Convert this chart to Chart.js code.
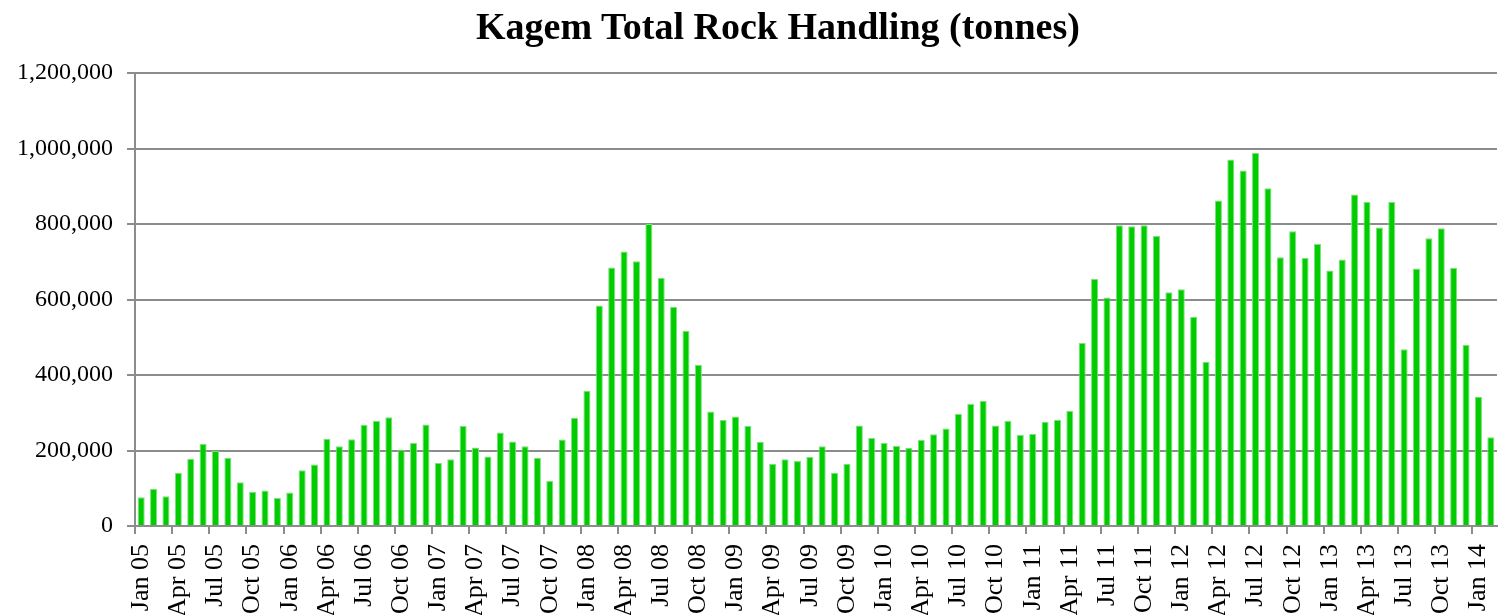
<!DOCTYPE html>
<html>
<head>
<meta charset="utf-8">
<script src="https://cdn.jsdelivr.net/npm/chart.js@4.4.0/dist/chart.umd.min.js"></script>
<style>
  html, body { margin: 0; padding: 0; background: #fff; overflow: hidden; }
  #wrap { position: relative; width: 1499px; height: 615px; }
  #title {
    position: absolute; top: 1px; left: 378px; width: 800px;
    text-align: center; white-space: nowrap;
    font: bold 38px "Liberation Serif", "Times New Roman", serif;
    line-height: 50px; color: #000;
  }
  canvas { position: absolute; top: 0; left: 0; }
</style>
</head>
<body>
<div id="wrap">
  <canvas id="rockChart" width="1499" height="615"></canvas>
  <div id="title">Kagem Total Rock Handling (tonnes)</div>
</div>
<script>
// categories: Jan 05 .. Feb 14, monthly
const monthNames = ['Jan', 'Feb', 'Mar', 'Apr', 'May', 'Jun', 'Jul', 'Aug', 'Sep', 'Oct', 'Nov', 'Dec'];
const years = ['05', '06', '07', '08', '09', '10', '11', '12', '13', '14'];
const monthCount = 110;

// tonnes per month
const tonnes = [
  76000, 99000, 79000, 141000, 178000, 217000, 199000, 181000, 116000, 90000, 94000, 74000,   // 2005
  89000, 148000, 163000, 231000, 211000, 230000, 268000, 279000, 288000, 202000, 220000, 269000, // 2006
  167000, 177000, 265000, 208000, 184000, 248000, 224000, 211000, 181000, 119000, 229000, 287000, // 2007
  358000, 584000, 685000, 727000, 701000, 800000, 657000, 581000, 517000, 427000, 303000, 281000, // 2008
  290000, 265000, 223000, 165000, 177000, 172000, 183000, 211000, 141000, 165000, 266000, 233000, // 2009
  220000, 212000, 207000, 228000, 243000, 258000, 297000, 323000, 331000, 266000, 279000, 242000, // 2010
  244000, 276000, 281000, 305000, 485000, 654000, 605000, 797000, 794000, 797000, 768000, 619000, // 2011
  627000, 554000, 435000, 862000, 971000, 942000, 988000, 895000, 712000, 781000, 710000, 747000, // 2012
  677000, 706000, 878000, 858000, 791000, 858000, 468000, 682000, 762000, 789000, 684000, 480000, // 2013
  342000, 235000                                                                                // 2014
];

const yTicks = [0, 200000, 400000, 600000, 800000, 1000000, 1200000];

const labels = [];
for (let i = 0; i < monthCount; i++) {
  labels.push(monthNames[i % 12] + ' ' + years[Math.floor(i / 12)]);
}

const axisGrey = '#8c8c8c';
const serif = '"Liberation Serif", "Times New Roman", serif';

const ctx = document.getElementById('rockChart').getContext('2d');

const rockChart = new Chart(ctx, {
  type: 'bar',
  data: {
    labels: labels,
    datasets: [{
      label: 'Total Rock Handling',
      data: tonnes,
      backgroundColor: '#00cc00',
      borderColor: '#7ee07e',
      borderWidth: 1,
      borderSkipped: 'bottom',
      barPercentage: 0.57,
      categoryPercentage: 1.0
    }]
  },
  options: {
    responsive: false,
    animation: false,
    layout: { padding: { top: 73, right: 2, left: 0, bottom: 0 } },
    plugins: {
      legend: { display: false },
      title: { display: false },
      tooltip: { enabled: false }
    },
    scales: {
      x: {
        offset: true,
        afterFit: function (scale) {
          scale.height = 89;
          scale.paddingLeft = 0;
          scale.paddingRight = 0;
        },
        grid: {
          offset: true,
          drawOnChartArea: false,
          drawTicks: true,
          tickLength: 8,
          lineWidth: 2,
          color: function (c) { return c.index % 3 === 0 ? axisGrey : 'rgba(0,0,0,0)'; }
        },
        border: { color: axisGrey, width: 2 },
        ticks: {
          autoSkip: false,
          maxRotation: 90,
          minRotation: 90,
          padding: 10,
          color: '#000',
          font: { family: serif, size: 26 },
          callback: function (value, index) { return index % 3 === 0 ? labels[index] : ''; }
        }
      },
      y: {
        min: yTicks[0],
        max: yTicks[yTicks.length - 1],
        afterFit: function (scale) { scale.width = 135; },
        afterBuildTicks: function (scale) { scale.ticks = yTicks.map(v => ({ value: v })); },
        grid: {
          color: axisGrey,
          lineWidth: 2,
          tickLength: 8
        },
        border: { color: axisGrey, width: 2 },
        ticks: {
          padding: 14,
          color: '#000',
          font: { family: serif, size: 24 },
          callback: function (value) { return value.toLocaleString('en-US'); }
        }
      }
    }
  }
});
</script>
</body>
</html>
